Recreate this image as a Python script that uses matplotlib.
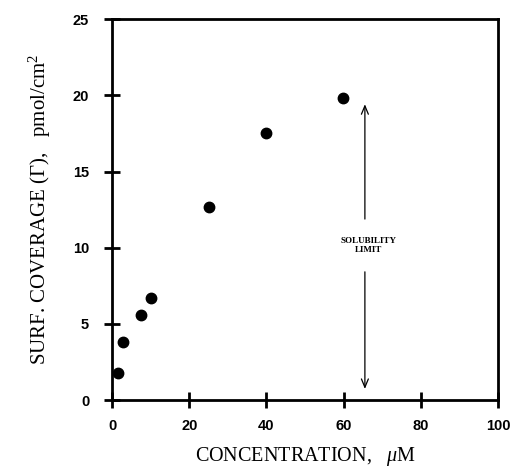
import matplotlib
matplotlib.use('Agg')
import matplotlib.pyplot as plt

plt.rcParams['mathtext.fontset'] = 'custom'
plt.rcParams['mathtext.rm'] = 'Liberation Serif'
plt.rcParams['mathtext.it'] = 'Liberation Serif:italic'

# data
conc = [1.6, 2.9, 7.4, 10.0, 25.0, 40.0, 59.8]
coverage = [1.8, 3.8, 5.6, 6.7, 12.7, 17.5, 19.8]
xticks = [0, 20, 40, 60, 80, 100]
yticks = [0, 5, 10, 15, 20, 25]
arrow_x = 65.5
arrow_top, arrow_bot = 19.6, 0.55
gap_top, gap_bot = 11.7, 8.6

fig = plt.figure(figsize=(5.14, 4.69), dpi=100)
ax = fig.add_axes([0.218, 0.147, 0.751, 0.812])

ax.plot(conc, coverage, 'o', color='black', markersize=7.5)

# solubility limit double arrow, split around the label
ax.annotate('', xy=(arrow_x, arrow_top), xytext=(arrow_x, gap_top),
            arrowprops=dict(arrowstyle='->,head_length=0.6,head_width=0.25',
                            color='black', lw=0.9))
ax.annotate('', xy=(arrow_x, arrow_bot), xytext=(arrow_x, gap_bot),
            arrowprops=dict(arrowstyle='->,head_length=0.6,head_width=0.25',
                            color='black', lw=0.9))
ax.text(66.5, 10.15, 'SOLUBILITY\nLIMIT', ha='center', va='center',
        fontsize=6.5, fontweight='bold', family='Liberation Serif', linespacing=1.2)

ax.set_xlim(0, 100)
ax.set_ylim(0, 25)
ax.set_xticks(xticks)
ax.set_yticks(yticks)
ax.tick_params(direction='inout', length=11, width=2, top=False, right=False,
               labelsize=10.5)
ax.tick_params(axis='x', pad=8)
ax.tick_params(axis='y', pad=11)
for lab in ax.get_xticklabels() + ax.get_yticklabels():
    lab.set_fontweight('bold')
    lab.set_family('Liberation Sans')
for s in ax.spines.values():
    s.set_linewidth(2)

ax.set_xlabel(r'CONCENTRATION,   $\mu$M', fontsize=14.5, family='Liberation Serif',
              labelpad=9)
ax.set_ylabel(r'SURF. COVERAGE ($\Gamma$),   pmol/cm$^2$', fontsize=15,
              family='Liberation Serif', labelpad=14)

fig.savefig('out.png', dpi=100)
